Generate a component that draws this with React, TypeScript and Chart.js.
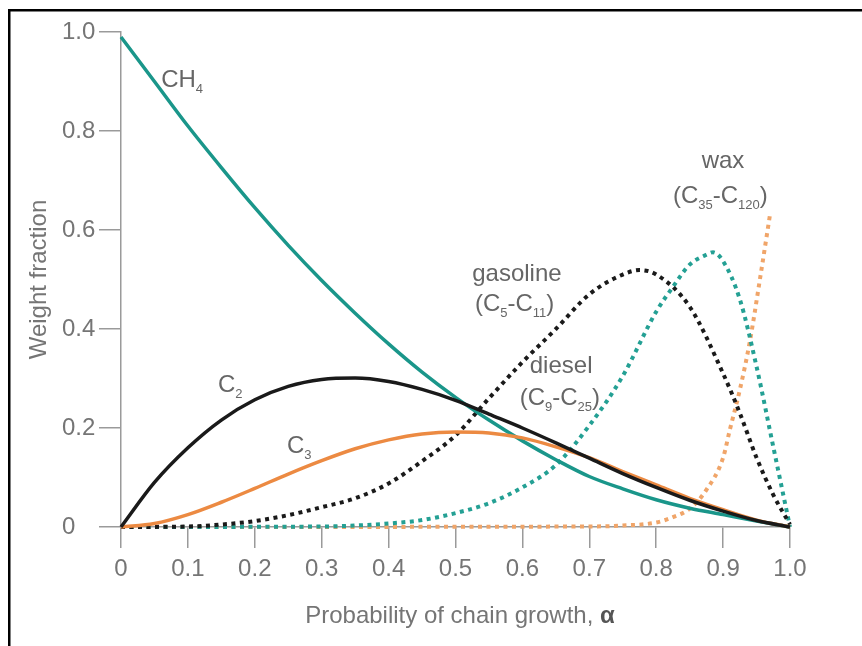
import React, { useEffect, useRef } from 'react';
import { Chart, registerables } from 'chart.js';

Chart.register(...registerables);

// ---- data ----
const alphaSolid = [0, 0.05, 0.1, 0.15, 0.2, 0.25, 0.3, 0.35, 0.4, 0.45, 0.5, 0.55, 0.6, 0.65, 0.7, 0.75, 0.8, 0.85, 0.9, 0.95, 1.0];
const ch4 = [0.99, 0.9, 0.81, 0.726, 0.645, 0.569, 0.498, 0.432, 0.37, 0.313, 0.262, 0.216, 0.174, 0.136, 0.102, 0.077, 0.055, 0.038, 0.025, 0.012, 0];
const c2 = [0, 0.09, 0.16, 0.216, 0.257, 0.284, 0.298, 0.301, 0.294, 0.278, 0.256, 0.228, 0.2, 0.17, 0.139, 0.108, 0.08, 0.054, 0.032, 0.013, 0];
const c3 = [0, 0.007, 0.025, 0.05, 0.078, 0.107, 0.134, 0.158, 0.176, 0.188, 0.192, 0.19, 0.18, 0.162, 0.14, 0.112, 0.085, 0.058, 0.035, 0.014, 0];

const alphaGasoline = [0, 0.1, 0.15, 0.2, 0.25, 0.3, 0.35, 0.4, 0.45, 0.5, 0.55, 0.6, 0.65, 0.7, 0.75, 0.775, 0.8, 0.85, 0.9, 0.925, 0.95, 0.975, 1.0];
const gasoline = [0, 0.001, 0.005, 0.012, 0.024, 0.04, 0.058, 0.088, 0.133, 0.185, 0.26, 0.333, 0.4, 0.47, 0.51, 0.519, 0.51, 0.445, 0.31, 0.23, 0.14, 0.065, 0.005];

const alphaDiesel = [0, 0.3, 0.35, 0.4, 0.45, 0.5, 0.55, 0.6, 0.65, 0.7, 0.75, 0.8, 0.825, 0.85, 0.875, 0.885, 0.9, 0.925, 0.95, 0.975, 1.0];
const diesel = [0, 0.001, 0.003, 0.007, 0.014, 0.028, 0.048, 0.08, 0.125, 0.205, 0.305, 0.435, 0.485, 0.53, 0.55, 0.555, 0.537, 0.46, 0.324, 0.162, 0.0];

const alphaWax = [0, 0.7, 0.75, 0.8, 0.825, 0.85, 0.875, 0.9, 0.91, 0.925, 0.94, 0.955, 0.97];
const wax = [0, 0.001, 0.003, 0.009, 0.02, 0.037, 0.075, 0.14, 0.196, 0.277, 0.375, 0.5, 0.63];

const xTickLabels = ['0', '0.1', '0.2', '0.3', '0.4', '0.5', '0.6', '0.7', '0.8', '0.9', '1.0'];
const yTickLabels = ['0', '0.2', '0.4', '0.6', '0.8', '1.0'];

const xTitle = 'Probability of chain growth, ';
const xTitleSymbol = 'α';
const yTitle = 'Weight fraction';

type Seg = { t: string; sub?: boolean };
// anchors in data units (alpha, weight fraction): left edge / baseline of the text
const curveLabels: { at: [number, number]; segs: Seg[] }[] = [
  { at: [0.06, 0.889], segs: [{ t: 'CH' }, { t: '4', sub: true }] },
  { at: [0.145, 0.273], segs: [{ t: 'C' }, { t: '2', sub: true }] },
  { at: [0.248, 0.149], segs: [{ t: 'C' }, { t: '3', sub: true }] },
  { at: [0.525, 0.497], segs: [{ t: 'gasoline' }] },
  { at: [0.529, 0.436], segs: [{ t: '(C' }, { t: '5', sub: true }, { t: '-C' }, { t: '11', sub: true }, { t: ')' }] },
  { at: [0.611, 0.311], segs: [{ t: 'diesel' }] },
  { at: [0.596, 0.246], segs: [{ t: '(C' }, { t: '9', sub: true }, { t: '-C' }, { t: '25', sub: true }, { t: ')' }] },
  { at: [0.868, 0.725], segs: [{ t: 'wax' }] },
  { at: [0.825, 0.655], segs: [{ t: '(C' }, { t: '35', sub: true }, { t: '-C' }, { t: '120', sub: true }, { t: ')' }] },
];

const FONT = '"Liberation Sans", Arial, Helvetica, sans-serif';
const TEAL = '#1a968a';
const TEAL_DOT = '#24a094';
const BLACK = '#1a1a1a';
const ORANGE = '#ec8a42';
const ORANGE_DOT = '#f0a569';
const AXIS = '#9a9a9a';
const TEXT = '#757575';

const pts = (xs: number[], ys: number[]) => xs.map((x, i) => ({ x, y: ys[i] }));

const decorPlugin = {
  id: 'decor',
  afterDraw(chart: any) {
    const ctx = chart.ctx as CanvasRenderingContext2D;
    const xs = chart.scales.x;
    const ys = chart.scales.y;
    ctx.save();
    // frame (top and left)
    ctx.fillStyle = '#000';
    ctx.fillRect(8, 9, 854, 2.5);
    ctx.fillRect(8, 9, 2.5, 637);

    // y title
    ctx.fillStyle = TEXT;
    ctx.font = `24px ${FONT}`;
    ctx.textAlign = 'center';
    ctx.textBaseline = 'middle';
    ctx.translate(39, (ys.top + ys.bottom) / 2);
    ctx.rotate(-Math.PI / 2);
    ctx.fillText(yTitle, 0, 0);
    ctx.setTransform(1, 0, 0, 1, 0, 0);

    // x title with bold alpha
    ctx.textAlign = 'left';
    ctx.textBaseline = 'alphabetic';
    ctx.font = `24px ${FONT}`;
    const w1 = ctx.measureText(xTitle).width;
    ctx.font = `bold 24px ${FONT}`;
    const w2 = ctx.measureText(xTitleSymbol).width;
    const cx = 460;
    const startX = cx - (w1 + w2) / 2;
    ctx.font = `24px ${FONT}`;
    ctx.fillText(xTitle, startX, 623);
    ctx.font = `bold 24px ${FONT}`;
    ctx.fillStyle = '#555';
    ctx.fillText(xTitleSymbol, startX + w1, 623);

    // curve labels
    ctx.fillStyle = '#666';
    for (const lab of curveLabels) {
      let px = xs.getPixelForValue(lab.at[0]);
      const py = ys.getPixelForValue(lab.at[1]);
      for (const s of lab.segs) {
        ctx.font = s.sub ? `13px ${FONT}` : `24px ${FONT}`;
        ctx.fillText(s.t, px, s.sub ? py + 6 : py);
        px += ctx.measureText(s.t).width;
      }
    }
    ctx.restore();
  },
};

export default function App() {
  const ref = useRef<HTMLCanvasElement | null>(null);
  useEffect(() => {
    if (!ref.current) return;
    const solid = (color: string) => ({
      borderColor: color,
      borderWidth: 3.5,
      pointRadius: 0,
      fill: false,
      cubicInterpolationMode: 'monotone' as const,
      clip: false as any,
    });
    const dotted = (color: string) => ({
      borderColor: color,
      borderWidth: 4,
      borderDash: [4, 4.5],
      pointRadius: 0,
      fill: false,
      cubicInterpolationMode: 'monotone' as const,
      clip: false as any,
    });
    const chart = new Chart(ref.current, {
      type: 'line',
      data: {
        datasets: [
          { label: 'C2', data: pts(alphaSolid, c2), ...solid(BLACK) },
          { label: 'C3', data: pts(alphaSolid, c3), ...solid(ORANGE) },
          { label: 'CH4', data: pts(alphaSolid, ch4), ...solid(TEAL) },
          { label: 'gasoline', data: pts(alphaGasoline, gasoline), ...dotted(BLACK) },
          { label: 'diesel', data: pts(alphaDiesel, diesel), ...dotted(TEAL_DOT) },
          { label: 'wax', data: pts(alphaWax, wax), ...dotted(ORANGE_DOT) },
        ],
      },
      options: {
        animation: false,
        responsive: false,
        maintainAspectRatio: false,
        layout: { padding: { left: 62, top: 32, right: 72, bottom: 10 } },
        plugins: { legend: { display: false }, tooltip: { enabled: false } },
        scales: {
          x: {
            type: 'linear',
            min: 0,
            max: 1,
            afterFit: (s: any) => { s.height = 109; },
            border: { display: true, color: AXIS, width: 1.5 },
            grid: { drawOnChartArea: false, drawTicks: true, tickLength: 21, color: AXIS, lineWidth: 1.5 },
            ticks: {
              stepSize: 0.1,
              autoSkip: false,
              maxRotation: 0,
              padding: 7,
              color: TEXT,
              font: { family: FONT, size: 24 },
              callback: (v: any) => xTickLabels[Math.round(Number(v) * 10)],
            },
          },
          y: {
            type: 'linear',
            min: 0,
            max: 1,
            afterFit: (s: any) => { s.width = 59; },
            border: { display: true, color: AXIS, width: 1.5 },
            grid: { drawOnChartArea: false, drawTicks: true, tickLength: 22, color: AXIS, lineWidth: 1.5 },
            ticks: {
              stepSize: 0.2,
              crossAlign: 'far',
              color: TEXT,
              font: { family: FONT, size: 24 },
              callback: (v: any) => yTickLabels[Math.round(Number(v) / 0.2)],
            },
          },
        },
      },
      plugins: [decorPlugin],
    });
    return () => chart.destroy();
  }, []);
  return (
    <div style={{ position: 'fixed', left: 0, top: 0, width: 862, height: 646, background: '#fff' }}>
      <canvas ref={ref} width={862} height={646} style={{ display: 'block', width: 862, height: 646 }} />
    </div>
  );
}
